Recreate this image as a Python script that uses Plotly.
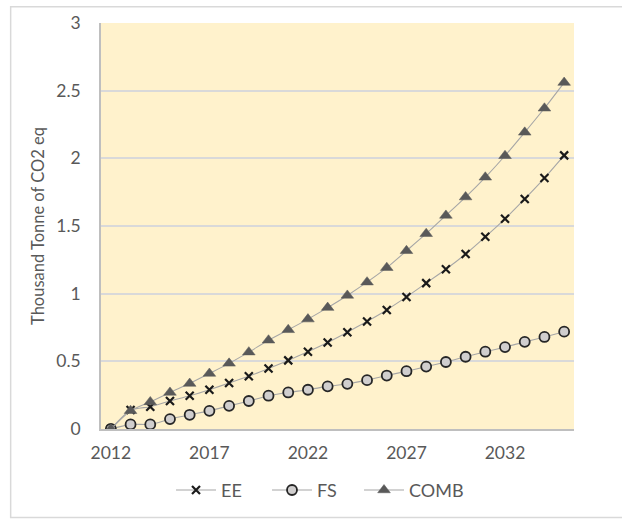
import plotly.graph_objects as go

# Yearly savings, thousand tonne CO2 eq
years = list(range(2012, 2036))
ee = [0, 0.14, 0.165, 0.207, 0.245, 0.29, 0.34, 0.39, 0.447, 0.507, 0.571, 0.639,
      0.715, 0.795, 0.88, 0.976, 1.078, 1.18, 1.293, 1.42, 1.553, 1.7, 1.854, 2.022]
fs = [0, 0.034, 0.034, 0.073, 0.105, 0.134, 0.171, 0.207, 0.246, 0.27, 0.29, 0.315,
      0.334, 0.361, 0.395, 0.427, 0.461, 0.495, 0.534, 0.571, 0.605, 0.644, 0.68, 0.719]
comb = [0, 0.135, 0.2, 0.27, 0.336, 0.41, 0.485, 0.568, 0.656, 0.733, 0.812, 0.897,
        0.987, 1.085, 1.192, 1.317, 1.443, 1.578, 1.714, 1.86, 2.019, 2.192, 2.37, 2.56]
x_ticks = [2012, 2017, 2022, 2027, 2032]
y_ticks = [0, 0.5, 1, 1.5, 2, 2.5, 3]

line_style = dict(color="#A6A6A6", width=1.1, shape="spline", smoothing=0.6)
text_color = "#595959"
font_family = "Lato, 'Open Sans', sans-serif"

fig = go.Figure()
fig.add_trace(go.Scatter(
    x=years, y=ee, name="EE", mode="lines+markers", line=line_style, legendwidth=41,
    marker=dict(symbol="x-thin", size=8, line=dict(color="#1A1A1A", width=2.2)),
))
fig.add_trace(go.Scatter(
    x=years, y=fs, name="FS", mode="lines+markers", line=line_style, legendwidth=37,
    marker=dict(symbol="circle", size=10, color="#D0CECE",
                line=dict(color="#262626", width=1.8)),
))
fig.add_trace(go.Scatter(
    x=years, y=comb, name="COMB", mode="lines+markers", line=line_style, legendwidth=70,
    marker=dict(symbol="triangle-up", size=11, color="#595959",
                line=dict(color="#595959", width=0.5)),
))

# light frame around the whole chart
fig.add_shape(type="rect", xref="paper", yref="paper",
              x0=-0.191, x1=1.25, y0=-0.218, y1=1.040,
              line=dict(color="#D9D9D9", width=1.5), fillcolor="rgba(0,0,0,0)",
              layer="below")

fig.update_layout(
    width=622, height=521,
    margin=dict(l=101, r=48, t=20, b=91),
    paper_bgcolor="white",
    plot_bgcolor="#FFF2CC",
    font=dict(family=font_family, size=17.5, color=text_color),
    showlegend=True,
    legend=dict(orientation="h", x=0.148, xanchor="left", y=-0.151, yanchor="middle",
                font=dict(size=18, color=text_color), bgcolor="rgba(0,0,0,0)",
                itemwidth=40, tracegroupgap=0),
    xaxis=dict(
        range=[2011.5, 2035.5], tickmode="array", tickvals=x_ticks,
        ticktext=[str(v) for v in x_ticks],
        showgrid=False, zeroline=False,
        showline=True, linecolor="#BFBFBF", linewidth=1.5,
        ticks="", ticklabelstandoff=7,
    ),
    yaxis=dict(
        range=[0, 3], tickmode="array", tickvals=y_ticks,
        ticktext=[f"{v:g}" for v in y_ticks],
        showgrid=True, gridcolor="#D9D9D9", gridwidth=1.5, zeroline=False,
        showline=True, linecolor="#BFBFBF", linewidth=1.5,
        ticks="", ticklabelstandoff=15,
        title=dict(text="Thousand Tonne of CO2 eq", standoff=8,
                   font=dict(size=16.5, color=text_color)),
    ),
)

fig.write_html("out.html")
